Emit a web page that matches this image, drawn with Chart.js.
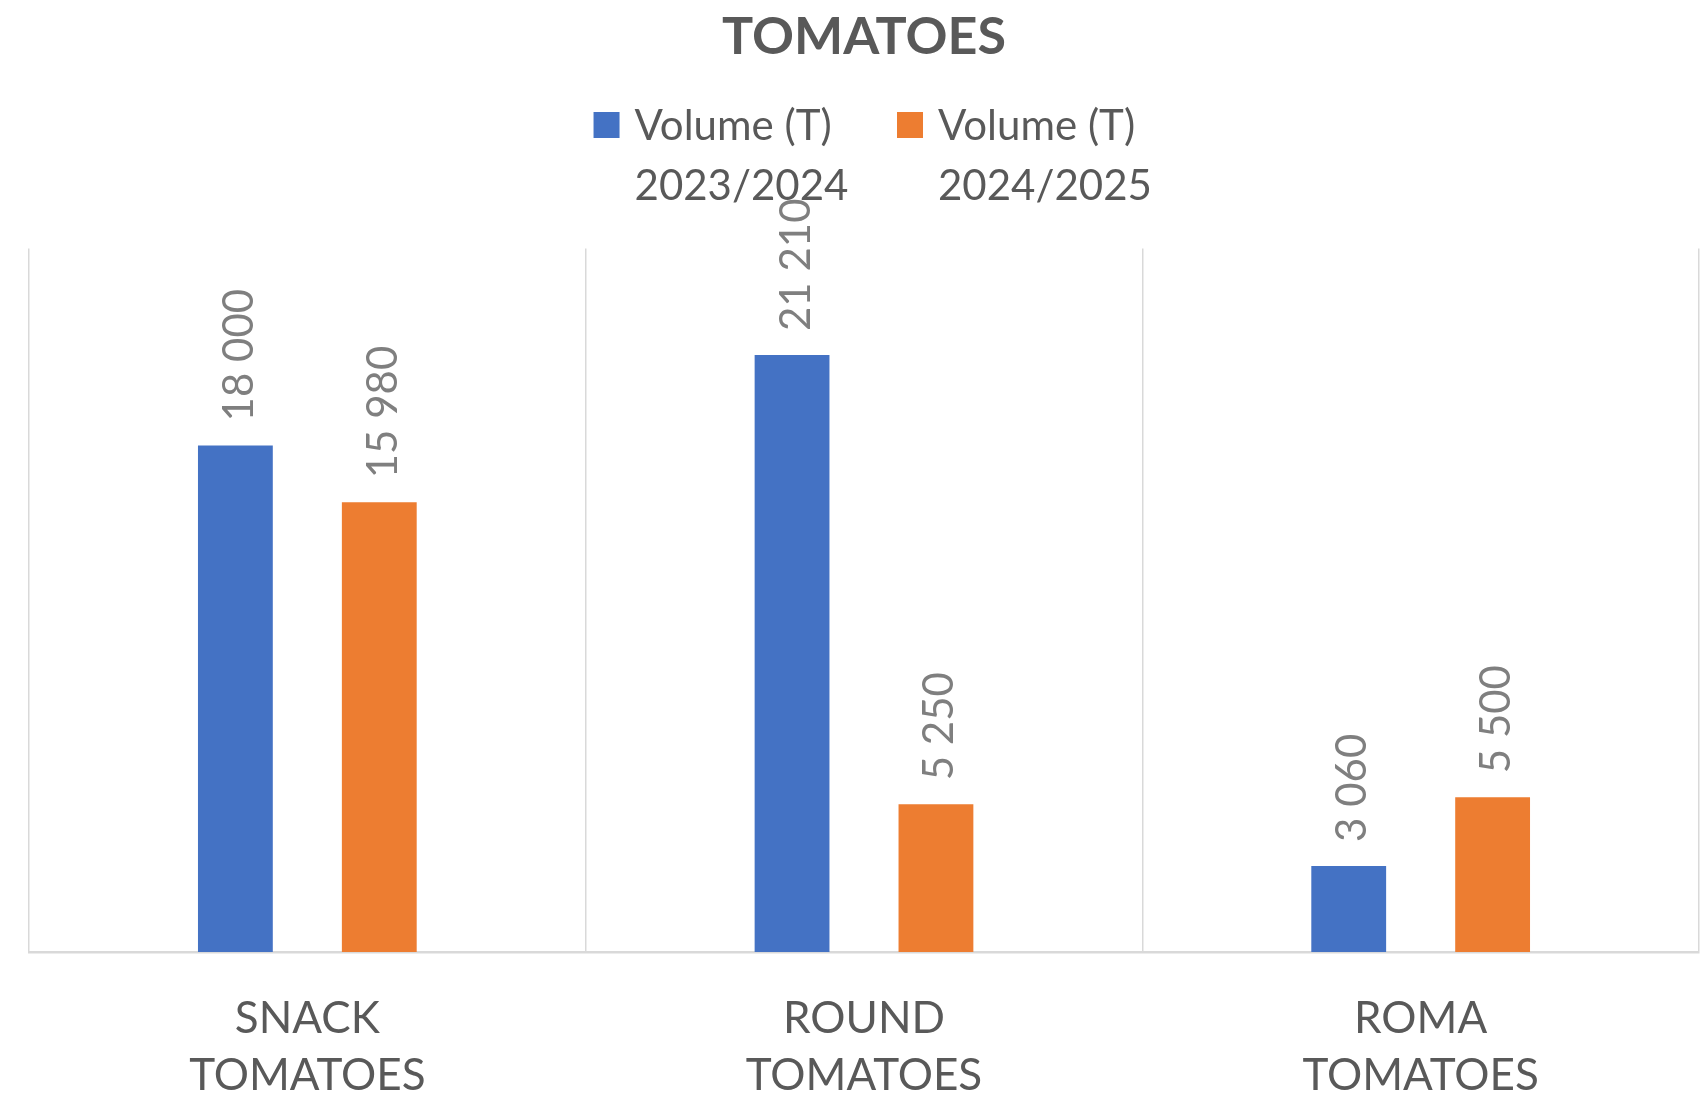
<!DOCTYPE html>
<html>
<head>
<meta charset="utf-8">
<script src="https://cdn.jsdelivr.net/npm/chart.js@4.4.1/dist/chart.umd.min.js"></script>
<style>
html,body{margin:0;padding:0;background:#ffffff;overflow:hidden}
#wrap{width:1708px;height:1096px}
</style>
</head>
<body>
<div id="wrap"><canvas id="c" width="1708" height="1096"></canvas></div>
<script>
// ---- data ----
const categories = [['SNACK', 'TOMATOES'], ['ROUND', 'TOMATOES'], ['ROMA', 'TOMATOES']];
const seriesNames = [['Volume (T)', '2023/2024'], ['Volume (T)', '2024/2025']];
const volume2023_2024 = [18000, 21210, 3060];
const volume2024_2025 = [15980, 5250, 5500];
const yAxisMin = 0;
const yAxisMax = 25000;
const chartTitle = 'TOMATOES';

// ---- styles ----
const seriesColors = ['#4472C4', '#ED7D31'];
const textColor = '#595959';
const labelColor = '#7F7F7F';
const gridColor = '#D9D9D9';

function fmt(v) {
  return String(v).replace(/\B(?=(\d{3})+(?!\d))/g, ' ');
}

const valueLabels = {
  id: 'valueLabels',
  afterDatasetsDraw(chart) {
    const ctx = chart.ctx;
    chart.data.datasets.forEach((ds, i) => {
      const meta = chart.getDatasetMeta(i);
      meta.data.forEach((bar, j) => {
        ctx.save();
        ctx.translate(bar.x + 4, bar.y - 24);
        ctx.rotate(-Math.PI / 2);
        ctx.font = '42px Lato';
        ctx.fillStyle = labelColor;
        ctx.textAlign = 'left';
        ctx.textBaseline = 'middle';
        ctx.fillText(fmt(ds.data[j]), 0, 0);
        ctx.restore();
      });
    });
  }
};

const customLegend = {
  id: 'customLegend',
  afterDraw(chart) {
    const ctx = chart.ctx;
    const ca = chart.chartArea;
    const boxSize = 26, boxGap = 15, itemGap = 48.6;
    const baseline1 = 140, lineH = 60;
    ctx.save();
    ctx.font = '42px Lato';
    const widths = chart.data.datasets.map(ds => {
      const lines = ds.label;
      return boxSize + boxGap + Math.max(...lines.map(l => ctx.measureText(l).width));
    });
    const total = widths.reduce((a, b) => a + b, 0) + itemGap * (widths.length - 1);
    let x = (ca.left + ca.right) / 2 - total / 2 + 8.7;
    chart.data.datasets.forEach((ds, i) => {
      ctx.fillStyle = ds.backgroundColor;
      ctx.fillRect(x, baseline1 - 28, boxSize, boxSize);
      ctx.fillStyle = textColor;
      ctx.textAlign = 'left';
      ctx.textBaseline = 'alphabetic';
      ds.label.forEach((line, k) => {
        ctx.fillText(line, x + boxSize + boxGap, baseline1 + k * lineH);
      });
      x += widths[i] + itemGap;
    });
    ctx.restore();
  }
};

const chart = new Chart(document.getElementById('c'), {
  type: 'bar',
  data: {
    labels: categories,
    datasets: [
      { label: seriesNames[0], data: volume2023_2024, backgroundColor: seriesColors[0] },
      { label: seriesNames[1], data: volume2024_2025, backgroundColor: seriesColors[1] }
    ]
  },
  options: {
    responsive: false,
    animation: false,
    devicePixelRatio: 1,
    categoryPercentage: 0.517,
    barPercentage: 0.52,
    layout: { padding: { left: 29, right: 9, top: 0, bottom: 0 } },
    plugins: {
      legend: { display: false },
      tooltip: { enabled: false },
      title: {
        display: true,
        text: chartTitle,
        color: textColor,
        font: { family: 'Lato', size: 52, weight: 'bold', lineHeight: 1.2 },
        padding: { top: 6, bottom: 180 }
      }
    },
    scales: {
      x: {
        grid: { color: gridColor, lineWidth: 1.5, drawTicks: false, offset: true },
        border: { color: gridColor, width: 2.5 },
        ticks: {
          color: textColor,
          font: { family: 'Lato', size: 44, lineHeight: 1.3 },
          padding: 38,
          maxRotation: 0,
          autoSkip: false
        },
        afterFit(scale) { scale.height = 144; }
      },
      y: { display: false, min: yAxisMin, max: yAxisMax }
    }
  },
  plugins: [valueLabels, customLegend]
});
</script>
</body>
</html>
